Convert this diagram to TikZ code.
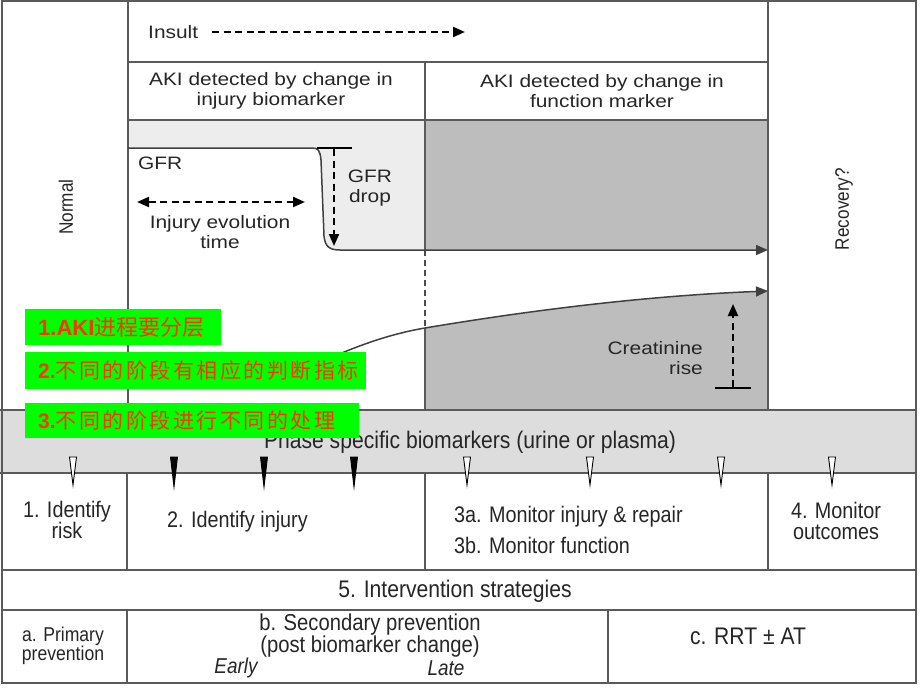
\documentclass[tikz,border=0pt]{standalone}
\usepackage{fontspec}
\setmainfont{Liberation Sans}
\newfontfamily\cond[FakeStretch=0.88]{Liberation Sans}
\newfontfamily\wide[FakeStretch=1.16]{Liberation Sans}
\newfontfamily\cjk{Noto Sans CJK SC}
\newfontfamily\cjkw[LetterSpace=12]{Noto Sans CJK SC}
\usetikzlibrary{arrows.meta}
\definecolor{frame}{HTML}{5A5A5A}
\definecolor{lightg}{HTML}{EDEDED}
\definecolor{darkg}{HTML}{BDBDBD}
\definecolor{bandg}{HTML}{DDDDDD}
\definecolor{grn}{HTML}{00FF00}
\definecolor{rd}{HTML}{FF3300}
\tikzset{
  frm/.style={draw=frame, line width=1.4pt},
  lab/.style={font=\wide\fontsize{18}{20}\selectfont, text=black!85, align=center, inner sep=0pt},
  slab/.style={font=\cond\fontsize{19.5}{20}\selectfont, text=black!85, align=center, inner sep=0pt},
  clab/.style={font=\cond\fontsize{22.5}{21}\selectfont, text=black!85, align=center, inner sep=0pt},
  dsh/.style={line width=2pt, dash pattern=on 7pt off 4.5pt},
  tip/.style={-{Triangle[length=12pt,width=10pt]}},
  curve/.style={draw=black!75, line width=1.5pt},
  gbox/.style={fill=grn, inner sep=0pt, anchor=north west, text=rd},
  wtri/.style={fill=white, draw=black, line width=0.9pt},
  btri/.style={fill=black, draw=black, line width=0.9pt}
}
\begin{document}
\begin{tikzpicture}[x=1pt,y=-1pt]
\useasboundingbox (0,0) rectangle (920,690);
\fill[white] (0,0) rectangle (920,690);
% fills
\fill[lightg] (128,120) -- (425,120) -- (425,250) -- (340,250) .. controls (330,250) and (325,247) .. (324,236) -- (321,160) .. controls (320,150) and (318,148) .. (312,148) -- (128,148) -- cycle;
\fill[darkg] (425,120) rectangle (768,250);
\fill[darkg] (425,328) .. controls (520,312) and (640,296) .. (768,291) -- (768,410) -- (425,410) -- cycle;
\fill[bandg] (0,410) rectangle (916,473);
% frame lines
\draw[frm] (2,1) rectangle (916,683);
\draw[frm] (128,1) -- (128,410);
\draw[frm] (768,1) -- (768,410);
\draw[frm] (128,62) -- (768,62);
\draw[frm] (128,120) -- (768,120);
\draw[frm] (425,62) -- (425,250);
\draw[frm] (425,328) -- (425,410);
\draw[draw=black!70, line width=1.6pt, dash pattern=on 6pt off 4pt] (425,250) -- (425,328);
\draw[frm] (0,410) -- (916,410);
\draw[frm] (0,473) -- (916,473);
\draw[frm] (2,570) -- (916,570);
\draw[frm] (2,610) -- (916,610);
\draw[frm] (127,473) -- (127,570);
\draw[frm] (425,473) -- (425,570);
\draw[frm] (768,473) -- (768,570);
\draw[frm] (127,610) -- (127,683);
\draw[frm] (608,610) -- (608,683);
% GFR curve
\coordinate (gfrS) at (128,148);
\coordinate (gfrE) at (768,250);
\draw[curve, tip] (gfrS) -- (312,148) .. controls (318,148) and (320,150) .. (321,160) -- (324,236) .. controls (325,247) and (330,250) .. (340,250) -- (gfrE);
% creatinine curve
\coordinate (crS) at (330,358);
\coordinate (crE) at (768,291);
\draw[curve, tip] (crS) .. controls (360,345) and (390,334) .. (425,328) .. controls (520,312) and (640,296) .. (crE);
% insult
\node[lab, anchor=west] (insult) at (148,32) {Insult};
\coordinate (insS) at (212,32);
\coordinate (insE) at (465,32);
\draw[dsh, tip] (insS) -- (insE);
% headers
\node[lab] (hdrL) at (271,91) {AKI detected by change in\\injury biomarker};
\node[lab] (hdrR) at (602,91) {AKI detected by change in\\function marker};
% GFR
\node[lab, anchor=west] (gfr) at (138,163) {GFR};
\coordinate (evL) at (137,202);
\coordinate (evR) at (305,202);
\draw[dsh, {Triangle[length=12pt,width=10pt]}-{Triangle[length=12pt,width=10pt]}] (evL) -- (evR);
\node[lab] (evo) at (220,232) {Injury evolution\\time};
\coordinate (dbL) at (317,148);
\coordinate (dbR) at (352,148);
\coordinate (dbT) at (334,149);
\coordinate (dbB) at (334,246);
\draw[line width=2pt] (dbL) -- (dbR);
\draw[dsh, tip] (dbT) -- (dbB);
\node[lab] (gfrdrop) at (370,188) {GFR\\drop};
% creatinine rise
\coordinate (crL) at (715,388);
\coordinate (crR) at (751,388);
\coordinate (crB) at (733,387);
\coordinate (crT) at (733,304);
\draw[line width=2pt] (crL) -- (crR);
\draw[dsh, tip] (crB) -- (crT);
\node[lab, anchor=east, align=right] (crrise) at (703,358) {Creatinine\\rise};
% side labels
\node[slab, rotate=90] (normal) at (66,207) {Normal};
\node[slab, rotate=90] (recov) at (844,209) {Recovery?};
% band
\node[clab, font=\cond\fontsize{24}{24}\selectfont] (phase) at (470,442) {Phase specific biomarkers (urine or plasma)};
\foreach \x in {73,467,590,721,832} {\draw[wtri] (\x-3.5,457) -- (\x+3.5,457) -- (\x,485) -- cycle;}
\foreach \x in {174,264,354} {\draw[btri] (\x-3.5,457) -- (\x+3.5,457) -- (\x,487) -- cycle;}
% row 2
\node[clab] (r1) at (67,520) {1. Identify\\risk};
\node[clab, anchor=west] (r2) at (167,522) {2. Identify injury};
\node[clab, anchor=west] (r3a) at (454,517) {3a. Monitor injury \& repair};
\node[clab, anchor=west] (r3b) at (454,545) {3b. Monitor function};
\node[clab] (r4) at (836,521) {4. Monitor\\outcomes};
% row 3
\node[clab, font=\cond\fontsize{24}{24}\selectfont] (r5) at (455,591) {5. Intervention strategies};
% row 4
\node[clab, font=\cond\fontsize{20}{19}\selectfont] (ra) at (63,646) {a. Primary\\prevention};
\node[clab, font=\cond\fontsize{23}{22}\selectfont] (rb) at (370,636) {b. Secondary prevention\\(post biomarker change)};
\node[clab, font=\cond\itshape\fontsize{21.5}{23}\selectfont] (early) at (236,668) {Early};
\node[clab, font=\cond\itshape\fontsize{21.5}{23}\selectfont] (late) at (446,668) {Late};
\node[clab, font=\cond\fontsize{24}{22}\selectfont] (rc) at (748,636) {c. RRT ± AT};
% green boxes
\node[gbox, minimum width=196pt, minimum height=36pt, text width=190pt, align=left] (g1) at (25,309) {\hspace*{10pt}\fontsize{22}{24}\selectfont\textbf{1.AKI}\cjk 进程要分层};
\node[gbox, minimum width=341pt, minimum height=37pt, text width=335pt, align=left] (g2) at (25,352) {\hspace*{10pt}\fontsize{21}{24}\selectfont\textbf{2.}\cjkw 不同的阶段有相应的判断指标};
\node[gbox, minimum width=334pt, minimum height=35pt, text width=328pt, align=left] (g3) at (25,403) {\hspace*{10pt}\fontsize{21}{24}\selectfont\textbf{3.}\cjkw 不同的阶段进行不同的处理};
\end{tikzpicture}
\end{document}
